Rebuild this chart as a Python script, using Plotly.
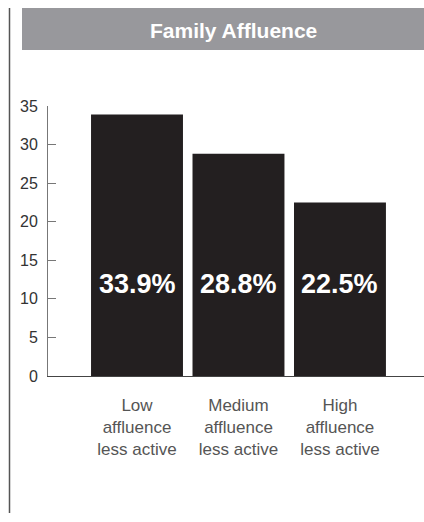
import plotly.graph_objects as go

# Share of less-active children by family affluence group
categories = ["Low<br>affluence<br>less active",
              "Medium<br>affluence<br>less active",
              "High<br>affluence<br>less active"]
values = [33.9, 28.8, 22.5]
y_ticks = [0, 5, 10, 15, 20, 25, 30, 35]
title_text = "Family Affluence"

W, H = 424, 522
ml, mr, mt, mb = 48, 0, 106, 146
pw = W - ml - mr
ph = H - mt - mb


def px_x(x):
    return (x - ml) / pw


def px_y(y):
    return (H - mb - y) / ph


fig = go.Figure()
fig.add_trace(go.Bar(
    x=list(range(len(categories))),
    y=values,
    marker=dict(color="#231f20", line=dict(width=0)),
    width=0.906,
    hoverinfo="skip",
))

# Percentage labels inside the bars, all on one baseline
for i, v in enumerate(values):
    fig.add_annotation(
        x=i, y=11.9, xref="x", yref="y",
        xanchor="center", yanchor="middle",
        text=f"<b>{v:.1f}%</b>", showarrow=False,
        font=dict(family="Liberation Sans, Arial, sans-serif", size=27, color="white"),
    )

# Grey header banner with title
fig.add_shape(type="rect", xref="paper", yref="paper",
              x0=px_x(22), x1=1.0, y0=px_y(50), y1=px_y(8),
              fillcolor="#98989c", line=dict(width=0), layer="below")
fig.add_annotation(
    x=px_x(233), y=px_y(30), xref="paper", yref="paper",
    xanchor="center", yanchor="middle",
    text=f"<b>{title_text}</b>", showarrow=False,
    font=dict(family="Liberation Sans, Arial, sans-serif", size=21, color="white"),
)

# Left rule down the side of the panel
fig.add_shape(type="line", xref="paper", yref="paper",
              x0=px_x(9.5), x1=px_x(9.5), y0=px_y(513), y1=px_y(8),
              line=dict(color="#555555", width=1.5))

fig.update_layout(
    width=W, height=H,
    margin=dict(l=ml, r=mr, t=mt, b=mb, pad=0),
    paper_bgcolor="white", plot_bgcolor="white",
    showlegend=False,
    font=dict(family="Liberation Sans, Arial, sans-serif"),
    xaxis=dict(
        range=[-0.877, 2.828],
        tickmode="array",
        tickvals=list(range(len(categories))),
        ticktext=categories,
        showgrid=False, zeroline=False,
        showline=True, linecolor="#444444", linewidth=1.2,
        ticks="", tickfont=dict(size=17, color="#555555"),
        ticklabelstandoff=13,
        fixedrange=True,
    ),
    yaxis=dict(
        range=[0, 35],
        tickmode="array", tickvals=y_ticks,
        showgrid=False, zeroline=False,
        showline=True, linecolor="#777777", linewidth=1,
        ticks="inside", ticklen=8, tickcolor="#777777", tickwidth=1,
        tickfont=dict(size=16, color="#333333"),
        ticklabelstandoff=6,
        fixedrange=True,
    ),
)

fig.write_html("out.html", config={"displayModeBar": False})
